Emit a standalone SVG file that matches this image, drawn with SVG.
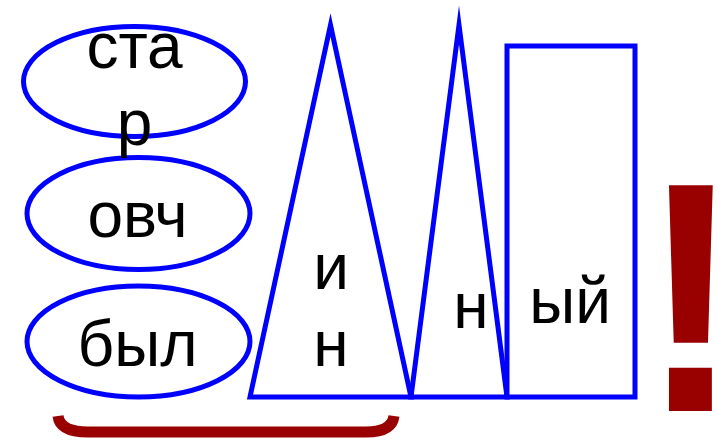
<svg xmlns="http://www.w3.org/2000/svg" width="717" height="440" viewBox="0 0 717 440">
<style>
.shape{fill:#ffffff;stroke:#0000ff;stroke-width:5;stroke-miterlimit:10}
.lbl{font-family:"Liberation Sans",Arial,sans-serif;font-size:64px;fill:#000000;text-anchor:middle}
.red{fill:none;stroke:#990000;stroke-width:11}
</style>
<rect width="717" height="440" fill="#ffffff"/>
<g id="node-star">
<ellipse class="shape" cx="134.5" cy="81.5" rx="111" ry="55"/>
<text class="lbl" x="134.5" y="68">ста</text>
</g>
<g id="node-ovch">
<ellipse class="shape" cx="138.5" cy="213.5" rx="111.5" ry="56"/>
<text class="lbl" x="137.5" y="237">овч</text>
</g>
<g id="node-byl">
<ellipse class="shape" cx="138.5" cy="341.5" rx="111.5" ry="55.5"/>
<text class="lbl" x="137.5" y="366">был</text>
</g>
<g id="node-in">
<polygon class="shape" points="250,397 330.5,25 411,397"/>
<text class="lbl" x="331" y="289">и</text>
<text class="lbl" x="331" y="366">н</text>
</g>
<g id="node-n">
<polygon class="shape" points="411,397 459,25 507,397"/>
<text class="lbl" x="471" y="328">н</text>
</g>
<g id="node-yj">
<rect class="shape" x="507" y="46" width="128" height="351"/>
<text class="lbl" x="570" y="322.5">ый</text>
</g>
<g id="node-excl">
<text transform="translate(691,411) scale(0.93,1)" x="0" y="0" font-family="'Liberation Sans',Arial,sans-serif" font-weight="bold" font-size="328" fill="#990000" text-anchor="middle">!</text>
</g>
<g id="connectors">
<path class="red" d="M58,416 Q60,432 88,432 L366,432 Q392,432 394,416"/>
</g>
<text x="134.5" y="145" font-family="'Liberation Sans',Arial,sans-serif" font-size="64" fill="#000000" text-anchor="middle">р</text>
</svg>
